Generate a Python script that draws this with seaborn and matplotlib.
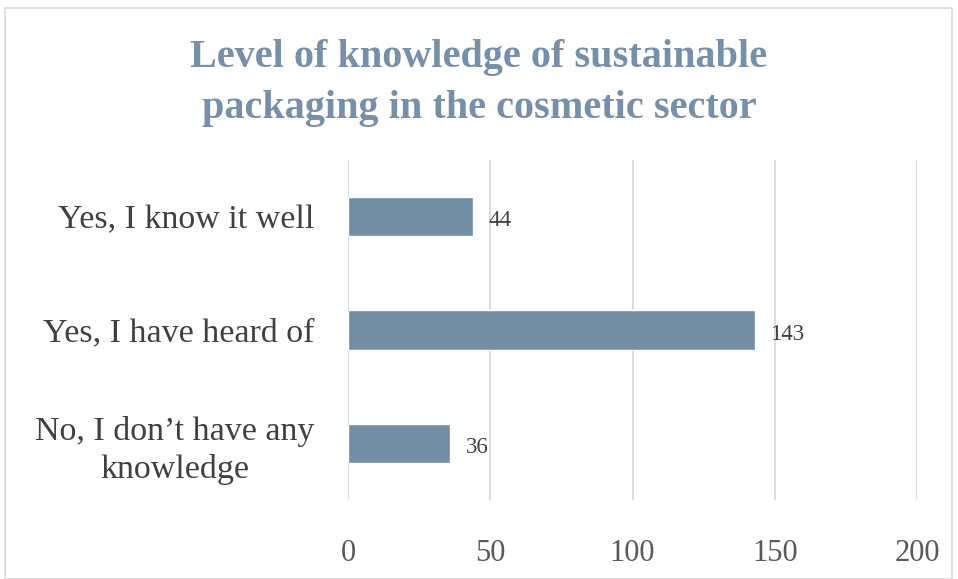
import matplotlib
matplotlib.use("Agg")
import matplotlib.pyplot as plt
import seaborn as sns
import pandas as pd
from matplotlib.patches import Rectangle

categories = ["Yes, I know it well", "Yes, I have heard of", "No, I don\u2019t have any\nknowledge"]
counts = [44, 143, 36]
x_ticks = [0, 50, 100, 150, 200]

title = "Level of knowledge of sustainable\npackaging in the cosmetic sector"
bar_color = "#728EA5"
title_color = "#7590A8"

sns.set_theme(style="white")
plt.rcParams["font.family"] = ["Liberation Serif", "DejaVu Serif"]

df = pd.DataFrame({"category": categories, "count": counts})

fig = plt.figure(figsize=(9.58, 5.79), dpi=100)
ax = fig.add_axes([348 / 958, 1 - 500 / 579, (917 - 348) / 958, (500 - 160) / 579])

sns.barplot(data=df, x="count", y="category", orient="h", color=bar_color,
            width=0.35, saturation=1, ax=ax, zorder=3)

ax.set_xlim(0, 200)
ax.set_xticks(x_ticks)
ax.set_xticklabels([str(t) for t in x_ticks])
ax.grid(axis="x", color="#D9D9D9", linewidth=1.3, zorder=0)
ax.grid(axis="y", visible=False)
for s in ax.spines.values():
    s.set_visible(False)
ax.set_xlabel("")
ax.set_ylabel("")
ax.tick_params(axis="x", length=0, pad=28, labelsize=22, labelcolor="#595959")
ax.tick_params(axis="y", length=0, pad=24, labelsize=24.5, labelcolor="#404040")
for lbl in ax.get_yticklabels():
    lbl.set_multialignment("center")
    lbl.set_linespacing(1.3)

for i, v in enumerate(counts):
    ax.annotate(str(v), xy=(v, i), xytext=(11, -3), textcoords="offset points",
                ha="left", va="center", fontsize=16.5, color="#404040")

fig.text(0.5, 1 - 83 / 579, title, ha="center", va="center", fontsize=29,
         fontweight="bold", color=title_color, linespacing=1.5)

fig.patches.append(Rectangle((5 / 958, 0), (952 - 5) / 958, 1 - 8 / 579,
                             transform=fig.transFigure, fill=False,
                             edgecolor="#D9D9D9", linewidth=1.2))

fig.savefig("out.png", dpi=100)
